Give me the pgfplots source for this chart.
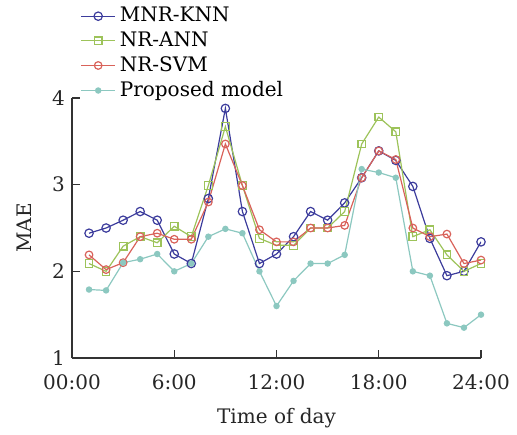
\documentclass[border=0pt]{standalone}
\usepackage{pgfplots}
\pgfplotsset{compat=1.18}
\usepackage{fontspec}
\setmainfont{DejaVu Serif}
\definecolor{cknn}{HTML}{3C3C9C}
\definecolor{cann}{HTML}{9DC35A}
\definecolor{csvm}{HTML}{D9625A}
\definecolor{cprop}{HTML}{8CC8C0}
\begin{document}
\begin{tikzpicture}
\begin{axis}[
  name=ax,
  scale only axis,
  width=204.5pt, height=130pt,
  xmin=0, xmax=24, ymin=1, ymax=4,
  axis x line*=bottom, axis y line*=left,
  axis line style={line width=0.7pt, black!80},
  tick style={black!80, line width=0.6pt},
  tick align=inside,
  major tick length=4pt,
  xtick={0,6,12,18,24},
  xticklabels={00:00,6:00,12:00,18:00,24:00},
  ytick={1,2,3,4},
  /pgf/number format/assume math mode=true,
  tick label style={font=\fontsize{10}{12}\selectfont, black!85},
  xticklabel style={yshift=-5pt},
  label style={font=\fontsize{10}{12}\selectfont, black!85},
  xlabel={Time of day},
  ylabel={MAE},
  xlabel style={yshift=-2pt},
  ylabel style={yshift=3.5pt},
  legend style={draw=none, fill=none, at={(0.015,1)}, anchor=south west, yshift=-4pt,
    font=\fontsize{10}{12}\selectfont, row sep=-0.5pt, inner sep=1pt},
  legend cell align=left,
  legend image code/.code={\draw[mark repeat=2,mark phase=2] plot coordinates {(0cm,0cm) (0.3cm,0cm) (0.6cm,0cm)};},
]
\addplot[cknn, line width=0.6pt, mark=o, mark size=2.1pt, mark options={fill=white}] coordinates {
(1,2.44)(2,2.50)(3,2.59)(4,2.69)(5,2.59)(6,2.20)(7,2.09)(8,2.84)(9,3.88)(10,2.69)(11,2.09)(12,2.20)
(13,2.40)(14,2.69)(15,2.59)(16,2.79)(17,3.08)(18,3.39)(19,3.28)(20,2.98)(21,2.38)(22,1.95)(23,2.00)(24,2.34)};
\addlegendentry{MNR-KNN}
\addplot[cann, line width=0.6pt, mark=square, mark size=1.9pt, mark options={fill=white}] coordinates {
(1,2.09)(2,2.00)(3,2.29)(4,2.40)(5,2.33)(6,2.52)(7,2.40)(8,2.99)(9,3.67)(10,2.99)(11,2.38)(12,2.30)
(13,2.30)(14,2.50)(15,2.50)(16,2.69)(17,3.47)(18,3.78)(19,3.61)(20,2.40)(21,2.48)(22,2.19)(23,2.00)(24,2.09)};
\addlegendentry{NR-ANN}
\addplot[csvm, line width=0.6pt, mark=o, mark size=1.9pt, mark options={fill=white}] coordinates {
(1,2.19)(2,2.02)(3,2.10)(4,2.40)(5,2.44)(6,2.37)(7,2.37)(8,2.80)(9,3.47)(10,2.99)(11,2.48)(12,2.34)
(13,2.34)(14,2.50)(15,2.50)(16,2.53)(17,3.08)(18,3.39)(19,3.29)(20,2.50)(21,2.40)(22,2.43)(23,2.09)(24,2.13)};
\addlegendentry{NR-SVM}
\addplot[cprop, line width=0.6pt, mark=*, mark size=1.3pt, mark options={fill=cprop}] coordinates {
(1,1.79)(2,1.78)(3,2.10)(4,2.14)(5,2.20)(6,2.00)(7,2.09)(8,2.40)(9,2.49)(10,2.44)(11,2.00)(12,1.60)
(13,1.89)(14,2.09)(15,2.09)(16,2.19)(17,3.18)(18,3.14)(19,3.08)(20,2.00)(21,1.95)(22,1.40)(23,1.35)(24,1.50)};
\addlegendentry{Proposed model}
\end{axis}
\pgfresetboundingbox
\useasboundingbox (ax.south west) ++(-36pt,-38pt) rectangle ++(258.5pt,217pt);
\end{tikzpicture}
\end{document}
